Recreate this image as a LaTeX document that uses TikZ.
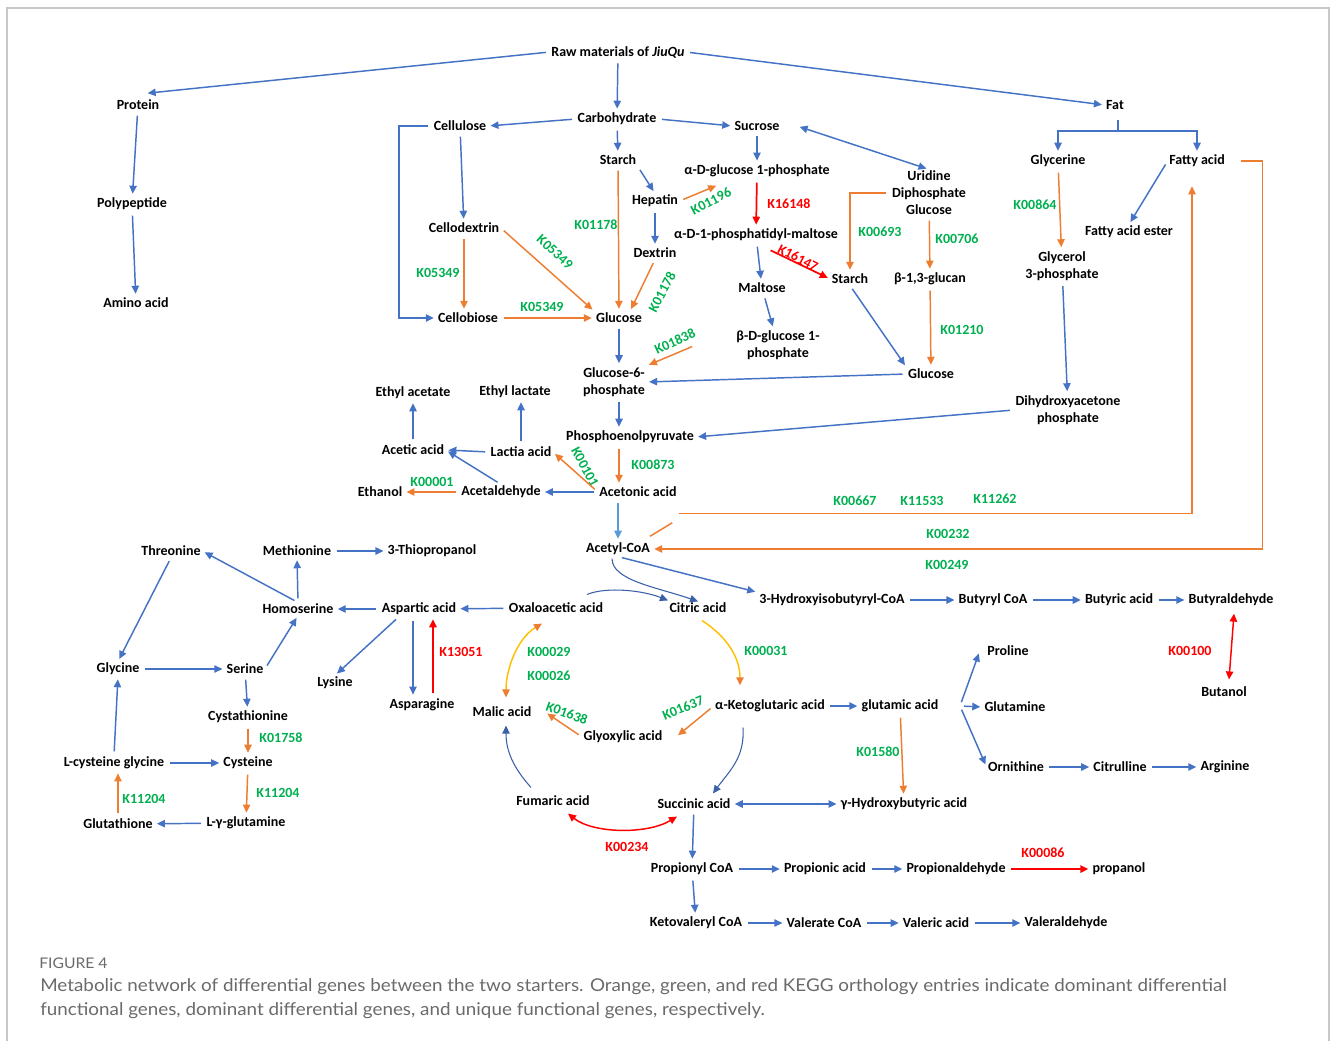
\documentclass[tikz,border=0pt]{standalone}
\usepackage{fontspec}
\setmainfont{Carlito}
\newfontfamily\captionfont{Lato}[FakeStretch=1.07]
\usetikzlibrary{arrows.meta,calc,positioning}

\definecolor{keggblue}{HTML}{4472C4}
\definecolor{kegglight}{HTML}{5B9BD5}
\definecolor{keggorange}{HTML}{ED7D31}
\definecolor{kegggreen}{HTML}{00B050}
\definecolor{keggred}{HTML}{FF0000}
\definecolor{kegggold}{HTML}{FFC000}
\definecolor{framegray}{HTML}{C8C8C8}
\definecolor{captiongray}{HTML}{6A6A6A}

\tikzset{
  compound/.style={font=\fontsize{10.5}{12.75}\selectfont\bfseries, inner sep=1pt, align=center},
  kog/.style={compound, text=kegggreen},
  kor/.style={compound, text=keggred},
  bluflow/.style={draw=keggblue, line width=1.1pt, -{Triangle[length=6pt,width=5.5pt]}, shorten <=3pt, shorten >=2pt},
  bluboth/.style={draw=keggblue, line width=1.1pt, {Triangle[length=6pt,width=5.5pt]}-{Triangle[length=6pt,width=5.5pt]}, shorten <=2pt, shorten >=2pt},
  bluthin/.style={draw=keggblue!85!black, line width=0.8pt, -{Triangle[length=6pt,width=5.5pt]}},
  oraflow/.style={draw=keggorange, line width=1.1pt, -{Triangle[length=6pt,width=5.5pt]}, shorten <=3pt, shorten >=2pt},
  redflow/.style={draw=keggred, line width=1.3pt, -{Triangle[length=6pt,width=5.5pt]}, shorten <=3pt, shorten >=2pt},
  redboth/.style={draw=keggred, line width=1.1pt, {Triangle[length=6pt,width=5.5pt]}-{Triangle[length=6pt,width=5.5pt]}},
  goldboth/.style={draw=kegggold, line width=1.1pt, {Triangle[length=6pt,width=5.5pt,color=keggorange]}-{Triangle[length=6pt,width=5.5pt,color=keggorange]}},
  goldone/.style={draw=kegggold, line width=1.1pt, -{Triangle[length=6pt,width=5.5pt,color=keggorange]}},
  captext/.style={font=\captionfont\fontsize{13.2}{18}\selectfont, text=captiongray, anchor=base west, inner sep=0pt}
}

\newcommand{\keggK}[4]{
\node [#1] (#2) at (#3) {#4};
}

\begin{document}
\begin{tikzpicture}[x=0.75pt, y=-0.75pt, every node/.style={compound}]

\useasboundingbox (0,0) rectangle (1331,1041);
\draw [framegray, line width=0.8pt] (7,1041) -- (7,8) -- (1329,8) -- (1329,1041);

\node (raw) at (618,52) {Raw materials of \textit{JiuQu}};
\node (protein) at (138,105) {Protein};
\node (polypep) at (132,204) {Polypeptide};
\node (amino) at (136,303) {Amino acid};
\node (carbo) at (617,119) {Carbohydrate};
\node (fat) at (1115,105) {Fat};
\node (cellulose) at (460,126) {Cellulose};
\node (sucrose) at (757,126) {Sucrose};
\node (starchA) at (618,160) {Starch};
\node (ag1p) at (757,171) {α-D-glucose 1-phosphate};
\node (udpg) at (929,193) {Uridine\\Diphosphate\\Glucose};
\node (glycerine) at (1058,161) {Glycerine};
\node (fattyacid) at (1197,161) {Fatty acid};
\node (hepatin) at (655,201) {Hepatin};
\node (cellodex) at (464,228) {Cellodextrin};
\node (adpm) at (756,235) {α-D-1-phosphatidyl-maltose};
\node (fae) at (1129,232) {Fatty acid ester};
\node (dextrin) at (655,253) {Dextrin};
\node (starchB) at (850,279) {Starch};
\node (glucan) at (930,279) {β-1,3-glucan};
\node (maltose) at (762,288) {Maltose};
\node (gly3p) at (1062,266) {Glycerol\\3-phosphate};
\node (cellobiose) at (468,318) {Cellobiose};
\node (glucoseA) at (619,318) {Glucose};
\node (bdg1p) at (778,345) {β-D-glucose 1-\\phosphate};
\node (glucoseB) at (931,374) {Glucose};
\node (g6p) at (614,382) {Glucose-6-\\phosphate};
\node (dhap) at (1068,410) {Dihydroxyacetone\\phosphate};
\node (ethylacetate) at (413,393) {Ethyl acetate};
\node (ethyllactate) at (515,392) {Ethyl lactate};
\node (pep) at (630,437) {Phosphoenolpyruvate};
\node (acetic) at (413,450) {Acetic acid};
\node (lactia) at (521,452) {Lactia acid};
\node (ethanol) at (380,492) {Ethanol};
\node (acetald) at (501,492) {Acetaldehyde};
\node (acetonic) at (638,492) {Acetonic acid};
\node (acetylcoa) at (618,549) {Acetyl-CoA};

\node (threonine) at (171,551) {Threonine};
\node (methionine) at (297,551) {Methionine};
\node (thioprop) at (432,551) {3-Thiopropanol};
\node (homoserine) at (298,609) {Homoserine};
\node (aspartic) at (419,609) {Aspartic acid};
\node (oxalo) at (556,608) {Oxaloacetic acid};
\node (citric) at (698,608) {Citric acid};
\node (hibcoa) at (832,600) {3-Hydroxyisobutyryl-CoA};
\node (butyrylcoa) at (993,600) {Butyryl CoA};
\node (butyric) at (1119,600) {Butyric acid};
\node (butyrald) at (1231,600) {Butyraldehyde};
\node (glycine) at (118,669) {Glycine};
\node (serine) at (245,669) {Serine};
\node (lysine) at (335,683) {Lysine};
\node (proline) at (1008,651) {Proline};
\node (butanol) at (1224,692) {Butanol};
\node (asparagine) at (422,705) {Asparagine};
\node (malic) at (502,712) {Malic acid};
\node (akg) at (770,706) {α-Ketoglutaric acid};
\node (glutamic) at (900,706) {glutamic acid};
\node (glutamine) at (1015,707) {Glutamine};
\node (glyoxylic) at (623,737) {Glyoxylic acid};
\node (cystathionine) at (248,717) {Cystathionine};
\node (lcysgly) at (114,763) {L-cysteine glycine};
\node (cysteine) at (248,763) {Cysteine};
\node (ornithine) at (1016,767) {Ornithine};
\node (citrulline) at (1120,767) {Citrulline};
\node (arginine) at (1225,767) {Arginine};
\node (fumaric) at (553,801) {Fumaric acid};
\node (succinic) at (694,804) {Succinic acid};
\node (ghb) at (904,804) {γ-Hydroxybutyric acid};
\node (glutathione) at (118,824) {Glutathione};
\node (lgg) at (246,823) {L-γ-glutamine};
\node (propionylcoa) at (692,869) {Propionyl CoA};
\node (propionic) at (825,869) {Propionic acid};
\node (propionald) at (956,869) {Propionaldehyde};
\node (propanol) at (1119,869) {propanol};
\node (ketoval) at (696,923) {Ketovaleryl CoA};
\node (valcoa) at (824,923) {Valerate CoA};
\node (valeric) at (936,923) {Valeric acid};
\node (valerald) at (1066,923) {Valeraldehyde};

\keggK{kog}{k01178a}{596,225}{K01178};
\keggK{kog, rotate=27}{k01196}{711,201}{K01196};
\keggK{kog, rotate=-42}{k05349a}{555,252}{K05349};
\keggK{kog}{k05349b}{438,273}{K05349};
\keggK{kog}{k05349c}{542,307}{K05349};
\keggK{kog, rotate=62}{k01178b}{662,292}{K01178};
\keggK{kog}{k00693}{880,232}{K00693};
\keggK{kog}{k00706}{957,239}{K00706};
\keggK{kog}{k01210}{962,330}{K01210};
\keggK{kog}{k00864}{1035,205}{K00864};
\keggK{kog, rotate=25}{k01838}{675,341}{K01838};
\keggK{kog}{k00873}{653,465}{K00873};
\keggK{kog, rotate=-62}{k00101}{585,467}{K00101};
\keggK{kog}{k00001}{432,482}{K00001};
\keggK{kog}{k00667}{855,501}{K00667};
\keggK{kog}{k11533}{922,501}{K11533};
\keggK{kog}{k11262}{995,499}{K11262};
\keggK{kog}{k00232}{948,534}{K00232};
\keggK{kog}{k00249}{947,565}{K00249};
\keggK{kog}{k00029}{549,652}{K00029};
\keggK{kog}{k00026}{549,676}{K00026};
\keggK{kog}{k00031}{766,651}{K00031};
\keggK{kog, rotate=-20}{k01638}{567,713}{K01638};
\keggK{kog, rotate=22}{k01637}{683,708}{K01637};
\keggK{kog}{k01580}{878,752}{K01580};
\keggK{kog}{k01758}{281,738}{K01758};
\keggK{kog}{k11204a}{144,799}{K11204};
\keggK{kog}{k11204b}{278,793}{K11204};
\keggK{kor}{k16148}{789,204}{K16148};
\keggK{kor, rotate=-28}{k16147}{798,258}{K16147};
\keggK{kor}{k13051}{461,652}{K13051};
\keggK{kor}{k00100}{1190,651}{K00100};
\keggK{kor}{k00234}{627,847}{K00234};
\keggK{kor}{k00086}{1043,853}{K00086};

\draw [bluflow] (raw.west) -- ($(protein.north)+(7,-5)$);
\draw [bluflow] (raw) -- (carbo);
\draw [bluflow] (raw.east) -- (fat.west);
\draw [bluflow] (protein) -- (polypep);
\draw [bluflow] (polypep) -- (amino);
\draw [bluflow] (carbo.west) -- (cellulose.east);
\draw [bluflow] (carbo.east) -- (sucrose.west);
\draw [bluflow] (carbo) -- (starchA);
\draw [bluboth] ($(sucrose.east)+(16,0)$) -- (udpg.north);
\draw [bluflow] (cellulose.west) -- ++(-33,0) |- (cellobiose.west);
\draw [bluflow] (cellulose) -- (cellodex);
\draw [bluflow] (starchA.south east) -- (hepatin.north);
\draw [bluflow] (hepatin) -- (dextrin);
\draw [bluflow] (sucrose) -- (ag1p);
\draw [bluflow] (adpm) -- (maltose);
\draw [bluflow] (maltose) -- (bdg1p);
\draw [bluflow] (starchB.south) -- (glucoseB.north west);
\draw [bluflow] (glucoseA.south) -- (glucoseA.south |- g6p.north);
\draw [bluflow] (glucoseB.west) -- (g6p.east);
\draw [bluflow] ($(fat.south)+(3,5)$) -- ++(0,15) -| (glycerine.north);
\draw [bluflow] ($(fat.south)+(3,5)$) -- ++(0,15) -| (fattyacid.north);
\draw [bluflow] (fattyacid.west) -- (fae.north);
\draw [bluflow] (gly3p) -- (dhap);
\draw [bluflow] (dhap.west) -- (pep.east);
\draw [bluflow] (g6p.south -| glucoseA) -- (pep.north -| glucoseA);
\draw [bluflow] (acetonic.west) -- (acetald.east);
\draw [bluflow] (acetald.north) -- (acetic.east);
\draw [bluflow] (lactia.west) -- (acetic.east);
\draw [bluflow] (acetic) -- (ethylacetate);
\draw [bluflow] (lactia.north) -- (lactia.north |- ethyllactate.south);
\draw [bluflow, draw=kegglight] (acetonic.south -| acetylcoa.north) -- (acetylcoa.north);
\draw [bluflow] (acetylcoa.south) -- (hibcoa.north west);
\draw [bluthin] ($(acetylcoa.south)+(-6,2)$) .. controls +(0,22) and +(-40,-14) .. (citric.north);
\draw [bluthin] ($(oxalo.north)+(31,-7)$) .. controls +(20,-8) and +(-25,-10) .. ($(citric.north west)+(0,-1)$);

\draw [bluflow] (oxalo) -- (aspartic);
\draw [bluflow] (aspartic) -- (homoserine);
\draw [bluflow] (homoserine.north) -- (methionine.south);
\draw [bluflow] (homoserine.north) -- (threonine.east);
\draw [bluflow] (methionine) -- (thioprop);
\draw [bluflow] (threonine.south) -- (glycine.north);
\draw [bluflow] (glycine) -- (serine);
\draw [bluflow] (serine.east) -- (homoserine.south);
\draw [bluflow] (serine) -- (cystathionine);
\draw [bluflow] (lcysgly.north) -- (glycine.south);
\draw [bluflow] (lcysgly) -- (cysteine);
\draw [bluflow] (lgg) -- (glutathione);
\draw [bluflow] ($(aspartic.south)+(-20,0)$) -- (lysine.north);
\draw [bluflow] ($(aspartic.south)+(-6,0)$) -- ($(asparagine.north)+(-9,0)$);
\draw [redflow] ($(asparagine.north)+(11,0)$) -- ($(aspartic.south)+(14,0)$);
\draw [bluflow] (hibcoa) -- (butyrylcoa);
\draw [bluflow] (butyrylcoa) -- (butyric);
\draw [bluflow] (butyric) -- (butyrald);
\draw [redboth] ($(butyrald.south)+(3,6)$) -- ($(butanol.north)+(5,-6)$);
\draw [bluflow] (akg) -- (glutamic);
\coordinate (aafork) at ($(glutamic.east)+(20,0)$);
\draw [bluflow] (aafork) -- ($(proline.west)+(-6,0)$);
\draw [bluflow] (aafork) -- (glutamine.west);
\draw [bluflow] (aafork) -- (ornithine.west);
\draw [bluflow] (ornithine) -- (citrulline);
\draw [bluflow] (citrulline) -- (arginine);
\draw [bluboth] (succinic) -- (ghb);
\draw [bluflow] (succinic) -- (propionylcoa);
\draw [bluflow] (propionylcoa) -- (propionic);
\draw [bluflow] (propionic) -- (propionald);
\draw [redflow] (propionald) -- (propanol);
\draw [bluflow] (propionylcoa) -- (ketoval);
\draw [bluflow] (ketoval) -- (valcoa);
\draw [bluflow] (valcoa) -- (valeric);
\draw [bluflow] (valeric) -- (valerald);

\draw [bluthin] ($(akg.south)+(-27,14)$) .. controls +(2,30) and +(16,-22) .. ($(succinic.north)+(19,-4)$);
\draw [bluthin] ($(fumaric.north)+(-22,-7)$) .. controls +(-18,-20) and +(0,25) .. ($(malic.south)+(4,7)$);
\draw [goldboth] ($(oxalo.south)+(-14,9)$) .. controls +(-25,15) and +(0,-28) .. ($(malic.north)+(4,-8)$);
\draw [goldone] ($(citric.south)+(4,6)$) .. controls +(22,14) and +(0,-30) .. ($(akg.north)+(-30,-13)$);
\draw [redboth] ($(fumaric.south)+(15,6)$) .. controls +(25,20) and +(-30,18) .. ($(succinic.south)+(-17,6)$);

\draw [oraflow] (starchA) -- (glucoseA);
\draw [oraflow] (hepatin.east) -- ($(ag1p.south west)+(36,6)$);
\draw [oraflow] (cellodex.east) -- (glucoseA.north west);
\draw [oraflow] (cellodex.south) -- (cellodex.south |- cellobiose.north);
\draw [oraflow] (cellobiose) -- (glucoseA);
\draw [oraflow] (dextrin.south) -- ($(glucoseA.north)+(11,0)$);
\draw [oraflow] (udpg.west) -| (starchB.north);
\draw [oraflow] (udpg) -- (glucan);
\draw [oraflow] (glucan) -- (glucoseB);
\draw [oraflow] ($(bdg1p.west)+(-39,0)$) -- (g6p.north east);
\draw [oraflow] (glycerine) -- (gly3p);
\draw [oraflow] (pep.south -| glucoseA) -- (acetonic.north -| glucoseA);
\draw [oraflow] (acetonic.west) -- (lactia.east);
\draw [oraflow] (acetald) -- (ethanol);
\draw [oraflow, -] ($(acetylcoa.north east)+(-5,-3)$) -- ++(28,-17);
\draw [oraflow] ($(acetylcoa.north east)+(23,-28)$) -| ($(fattyacid.south)+(-5,15)$);
\draw [oraflow] (fattyacid.east) ++(11,0) -- ++(25,0) |- (acetylcoa.east);
\draw [oraflow] (glutamic) -- (ghb);
\draw [oraflow] (cystathionine) -- (cysteine);
\draw [oraflow] (cysteine) -- (lgg);
\draw [oraflow] (glutathione.north) -- (glutathione.north |- lcysgly.south);
\draw [oraflow] (glyoxylic.west) -- ($(malic.east)+(12,0)$);
\draw [oraflow] (akg.west) -- ($(glyoxylic.east)+(12,0)$);

\draw [redflow] (ag1p) -- (adpm);
\draw [redflow] ($(adpm.south)+(11,6)$) -- (starchB.west);

\node [captext, font=\captionfont\fontsize{11}{13}\selectfont] (figlabel) at (39,968) {FIGURE 4};
\node [captext] (capline1) at (40,991) {Metabolic network of differential genes between the two starters. Orange, green, and red KEGG orthology entries indicate dominant differential};
\node [captext] (capline2) at (40,1015) {functional genes, dominant differential genes, and unique functional genes, respectively.};

\end{tikzpicture}
\end{document}
